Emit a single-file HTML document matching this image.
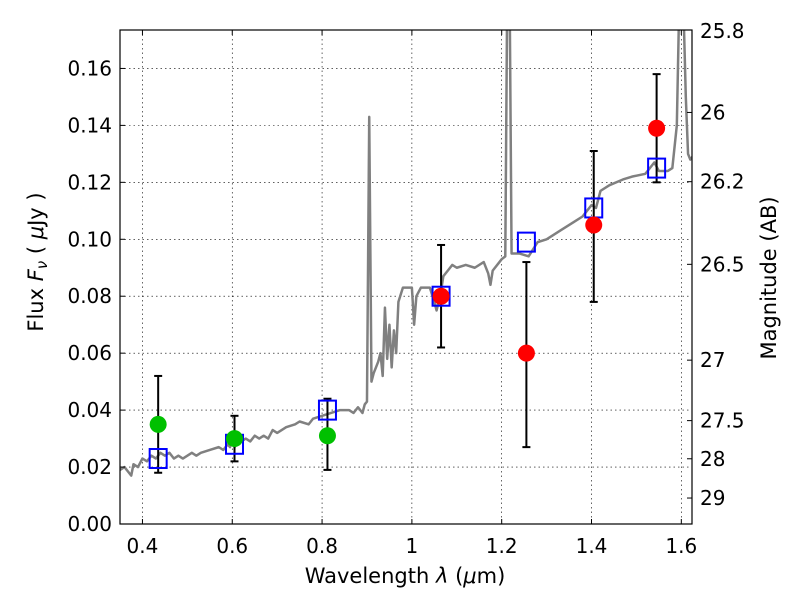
<!DOCTYPE html>
<html><head><meta charset="utf-8"><style>
body{margin:0;background:#fff;font-family:"DejaVu Sans","Liberation Sans",sans-serif;}
svg text{font-family:"DejaVu Sans","Liberation Sans",sans-serif;}
</style></head><body>
<svg id="chart" width="800" height="600" xmlns="http://www.w3.org/2000/svg">
<defs><clipPath id="clip"><rect x="120" y="30" width="572" height="493"/></clipPath></defs>
<rect width="800" height="600" fill="#fff"/>
<g id="grid"></g>
<g id="spec" clip-path="url(#clip)"></g>
<g id="marks" clip-path="url(#clip)"></g>
<rect x="120" y="30" width="572" height="494" fill="none" stroke="#000" stroke-width="1.2"/>
<g id="axes"></g>
<text x="405" y="583" font-size="21" text-anchor="middle">Wavelength  <tspan font-style="italic">λ</tspan> (<tspan font-style="italic">μ</tspan>m)</text>
<text transform="translate(43,262) rotate(-90)" font-size="21" text-anchor="middle">Flux  <tspan font-style="italic">F<tspan font-size="15" dy="4">ν</tspan></tspan><tspan dy="-4">  ( </tspan><tspan font-style="italic">μ</tspan>Jy )</text>
<text transform="translate(776,278) rotate(-90)" font-size="21" text-anchor="middle">Magnitude (AB)</text>
</svg>
<script>
const xTicks=[0.4,0.6,0.8,1.0,1.2,1.4,1.6];
const xTickLabels=["0.4","0.6","0.8","1","1.2","1.4","1.6"];
const yTicks=[0,0.02,0.04,0.06,0.08,0.10,0.12,0.14,0.16];
const yTickLabels=["0.00","0.02","0.04","0.06","0.08","0.10","0.12","0.14","0.16"];
const magTicks=[25.8,26,26.2,26.5,27,27.5,28,29];
const magTickLabels=["25.8","26","26.2","26.5","27","27.5","28","29"];
const specWave=[0.35,0.36,0.37,0.375,0.38,0.39,0.40,0.41,0.42,0.43,0.44,0.45,0.46,0.47,0.48,0.49,0.50,0.51,0.52,0.53,0.55,0.57,0.58,0.59,0.595,0.60,0.605,0.61,0.62,0.63,0.64,0.65,0.66,0.67,0.68,0.69,0.70,0.72,0.74,0.75,0.77,0.78,0.80,0.82,0.84,0.86,0.87,0.88,0.89,0.895,0.90,0.905,0.91,0.915,0.92,0.925,0.93,0.935,0.94,0.945,0.95,0.955,0.96,0.965,0.97,0.98,0.99,1.0,1.005,1.01,1.02,1.04,1.05,1.055,1.065,1.07,1.08,1.09,1.10,1.12,1.14,1.16,1.17,1.175,1.18,1.20,1.208,1.212,1.218,1.222,1.24,1.26,1.28,1.30,1.33,1.36,1.38,1.39,1.40,1.41,1.42,1.44,1.47,1.49,1.52,1.54,1.55,1.57,1.58,1.59,1.595,1.605,1.61,1.615,1.62,1.625];
const specFlux=[0.019,0.020,0.018,0.017,0.021,0.020,0.023,0.022,0.024,0.023,0.025,0.024,0.025,0.023,0.024,0.023,0.024,0.025,0.024,0.025,0.026,0.027,0.026,0.028,0.027,0.031,0.027,0.028,0.029,0.030,0.029,0.031,0.030,0.031,0.030,0.033,0.032,0.034,0.035,0.036,0.035,0.037,0.038,0.039,0.040,0.040,0.039,0.041,0.039,0.042,0.043,0.143,0.050,0.053,0.055,0.057,0.060,0.052,0.076,0.058,0.070,0.055,0.068,0.060,0.078,0.083,0.083,0.083,0.070,0.080,0.083,0.083,0.078,0.075,0.082,0.087,0.089,0.091,0.090,0.091,0.090,0.092,0.088,0.084,0.089,0.093,0.094,0.180,0.180,0.095,0.095,0.094,0.099,0.100,0.103,0.106,0.108,0.110,0.112,0.111,0.117,0.119,0.121,0.122,0.123,0.127,0.124,0.124,0.125,0.140,0.180,0.180,0.150,0.130,0.128,0.129];
const obsWave=[0.435,0.605,0.812,1.065,1.255,1.405,1.545];
const obsFlux=[0.035,0.030,0.031,0.080,0.060,0.105,0.139];
const obsLow=[0.018,0.022,0.019,0.062,0.027,0.078,0.120];
const obsHigh=[0.052,0.038,0.044,0.098,0.092,0.131,0.158];
const obsColor=["#00c000","#00c000","#00c000","#ff0000","#ff0000","#ff0000","#ff0000"];
const modelFlux=[0.023,0.028,0.040,0.080,0.099,0.111,0.125];

const NS="http://www.w3.org/2000/svg";
const X0=120,X1=692,Y0=524,Y1=30,XMIN=0.35,XMAX=1.6238,YMAX=0.1735;
function sx(v){return X0+(v-XMIN)/(XMAX-XMIN)*(X1-X0);}
function sy(v){return Y0-v/YMAX*(Y0-Y1);}
function mk(tag,attrs,parent){const e=document.createElementNS(NS,tag);for(const k in attrs)e.setAttribute(k,attrs[k]);parent.appendChild(e);return e;}
const grid=document.getElementById('grid'),axes=document.getElementById('axes');
xTicks.forEach((t,i)=>{const x=sx(t);
 const g=mk('line',{x1:x,x2:x,y1:Y1,y2:Y0,stroke:'#000','stroke-width':0.6,'stroke-dasharray':'1.5,3'},grid);
 
 const a=mk('line',{x1:x,x2:x,y1:Y0,y2:Y0-5,stroke:'#000'},axes);
 const b=mk('line',{x1:x,x2:x,y1:Y1,y2:Y1+5,stroke:'#000'},axes);
 const tx=mk('text',{x:x,y:553,'font-size':20,'text-anchor':'middle'},axes);tx.textContent=xTickLabels[i];
 });
yTicks.forEach((t,i)=>{const y=sy(t);
 const g=mk('line',{x1:X0,x2:X1,y1:y,y2:y,stroke:'#000','stroke-width':0.6,'stroke-dasharray':'1.5,3'},grid);
 
 const a=mk('line',{x1:X0,x2:X0+5,y1:y,y2:y,stroke:'#000'},axes);
 const tx=mk('text',{x:112,y:y+7,'font-size':20,'text-anchor':'end'},axes);tx.textContent=yTickLabels[i];
 });
magTicks.forEach((m,i)=>{const f=Math.pow(10,-0.4*(m-23.9));const y=Math.max(Y1,sy(f));
 const a=mk('line',{x1:X1,x2:X1-5,y1:y,y2:y,stroke:'#000'},axes);
 const ly=Math.max(38,y+7);
 const tx=mk('text',{x:700,y:ly,'font-size':20,'text-anchor':'start'},axes);tx.textContent=magTickLabels[i];
 });
const spec=document.getElementById('spec');
const p=mk('polyline',{points:specWave.map((w,i)=>sx(w)+','+sy(specFlux[i])).join(' '),fill:'none',stroke:'#808080','stroke-width':2.5,'stroke-linejoin':'round'},spec);

const marks=document.getElementById('marks');
obsWave.forEach((w,i)=>{const x=sx(w);
 const e=mk('line',{x1:x,x2:x,y1:sy(obsLow[i]),y2:sy(obsHigh[i]),stroke:'#000','stroke-width':2},marks);
 
 [obsLow[i],obsHigh[i]].forEach(v=>{const c=mk('line',{x1:x-4,x2:x+4,y1:sy(v),y2:sy(v),stroke:'#000','stroke-width':2},marks);
  });
 const s=mk('rect',{x:x-8.5,y:sy(modelFlux[i])-9.5,width:17,height:19,fill:'none',stroke:'#0000ff','stroke-width':2},marks);
 
 const d=mk('circle',{cx:x,cy:sy(obsFlux[i]),r:8.5,fill:obsColor[i]},marks);
 });
</script>
</body></html>
